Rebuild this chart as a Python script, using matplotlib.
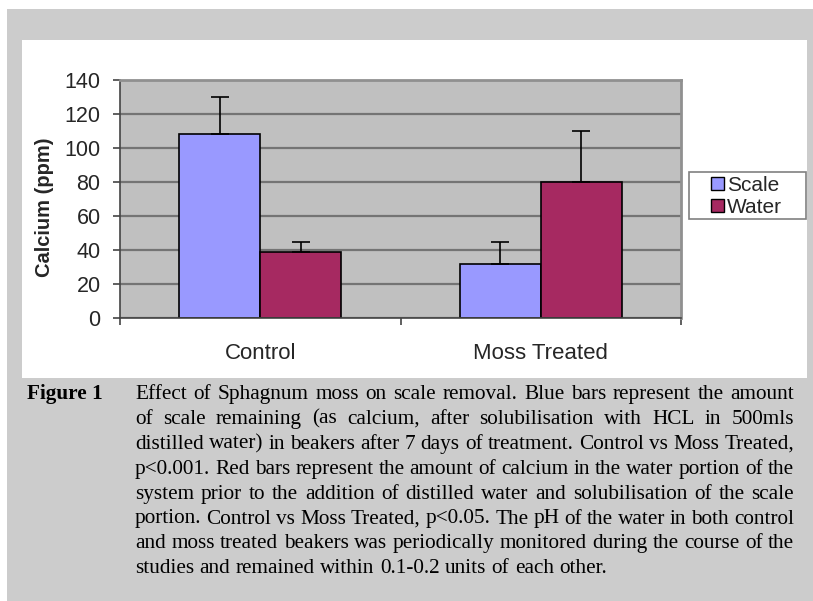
import matplotlib.pyplot as plt
import numpy as np
from matplotlib.patches import Rectangle, Patch

plt.rcParams['font.family'] = ['Liberation Sans', 'DejaVu Sans']

W, H = 813, 601

categories = ['Control', 'Moss Treated']
scale_vals = [108, 32]
scale_err = [22, 13]
water_vals = [39, 80]
water_err = [6, 30]
series_names = ['Scale', 'Water']
yticks = [0, 20, 40, 60, 80, 100, 120, 140]

caption_lines = [
    "Effect of Sphagnum moss on scale removal. Blue bars represent the amount",
    "of scale remaining (as calcium, after solubilisation with HCL in 500mls",
    "distilled water) in beakers after 7 days of treatment. Control vs Moss Treated,",
    "p<0.001. Red bars represent the amount of calcium in the water portion of the",
    "system prior to the addition of distilled water and solubilisation of the scale",
    "portion. Control vs Moss Treated, p<0.05. The pH of the water in both control",
    "and moss treated beakers was periodically monitored during the course of the",
    "studies and remained within 0.1-0.2 units of each other.",
]

scale_color = '#9999ff'
water_color = '#a62961'


def fx(x):
    return x / W


def fy(y):
    return 1 - y / H


fig = plt.figure(figsize=(W / 100, H / 100), dpi=100)
fig.patch.set_facecolor('white')

# grey page and white chart panel
fig.add_artist(Rectangle((fx(7), 0), 1 - fx(7), fy(9), transform=fig.transFigure,
                         facecolor='#cccccc', edgecolor='none', zorder=0))
fig.add_artist(Rectangle((fx(22), fy(378)), fx(807) - fx(22), fy(40) - fy(378),
                         transform=fig.transFigure, facecolor='white',
                         edgecolor='none', zorder=0))

ax = fig.add_axes([fx(120), fy(318), fx(681) - fx(120), fy(80) - fy(318)])
ax.set_facecolor('#c0c0c0')
ax.set_axisbelow(True)

x = np.arange(len(categories))
bw = 0.288
ax.bar(x - bw / 2, scale_vals, bw, color=scale_color, edgecolor='black', linewidth=1.2)
ax.bar(x + bw / 2, water_vals, bw, color=water_color, edgecolor='black', linewidth=1.2)
ax.errorbar(x - bw / 2, scale_vals, yerr=[np.zeros(len(x)), scale_err], fmt='none',
            ecolor='black', elinewidth=1.2, capsize=6.5, capthick=1.2)
ax.errorbar(x + bw / 2, water_vals, yerr=[np.zeros(len(x)), water_err], fmt='none',
            ecolor='black', elinewidth=1.2, capsize=6.5, capthick=1.2)

ax.set_xlim(-0.5, 1.5)
ax.set_ylim(0, 140)
ax.set_yticks(yticks)
ax.yaxis.grid(True, color='#747474', linewidth=1.6)
ax.tick_params(axis='y', direction='out', length=5, width=1.2, color='#444444',
               labelsize=15.5, labelcolor='#262626', pad=9)
ax.set_xticks(x)
ax.set_xticklabels(categories, fontsize=16, color='#262626')
ax.tick_params(axis='x', which='major', length=0, pad=18)
ax.set_xticks([-0.5, 0.5, 1.5], minor=True)
ax.tick_params(axis='x', which='minor', direction='out', length=5, width=1.2, color='#444444')
for s in ['left', 'bottom']:
    ax.spines[s].set_color('#444444')
    ax.spines[s].set_linewidth(1.2)
for s in ['top', 'right']:
    ax.spines[s].set_color('#909090')
    ax.spines[s].set_linewidth(2)

fig.text(fx(44), fy(207), 'Calcium (ppm)', rotation=90, fontsize=14.5,
         fontweight='bold', ha='center', va='center', color='#262626')

# legend box
fig.add_artist(Rectangle((fx(689), fy(219)), fx(806) - fx(689), fy(172) - fy(219),
                         transform=fig.transFigure, facecolor='white',
                         edgecolor='#808080', linewidth=1.2, zorder=3))
handles = [Patch(facecolor=scale_color, edgecolor='black', linewidth=1),
           Patch(facecolor=water_color, edgecolor='black', linewidth=1)]
leg = fig.legend(handles, series_names, loc='upper left',
                 bbox_to_anchor=(fx(710), fy(175)), frameon=False, fontsize=15,
                 handlelength=0.6, handleheight=0.6, handletextpad=0.15,
                 labelspacing=0.15, borderpad=0.05, borderaxespad=0,
                 labelcolor='#262626')
leg.set_zorder(4)

# caption, justified like the original page
serif = 'Liberation Serif'
fs = 15.3
fig.text(fx(27), fy(399), 'Figure 1', fontsize=fs, fontweight='bold',
         family=serif, va='baseline', ha='left')

renderer = fig.canvas.get_renderer()
x0, x1 = 135, 794
for i, line in enumerate(caption_lines):
    yb = 399 + 24.9 * i
    words = line.split(' ')
    texts = [fig.text(0, 0, w, fontsize=fs, family=serif, va='baseline', ha='left')
             for w in words]
    widths = [t.get_window_extent(renderer).width for t in texts]
    if i < len(caption_lines) - 1:
        gap = (x1 - x0 - sum(widths)) / (len(words) - 1)
    else:
        sp = fig.text(0, 0, 'a a', fontsize=fs, family=serif)
        sa = fig.text(0, 0, 'aa', fontsize=fs, family=serif)
        gap = sp.get_window_extent(renderer).width - sa.get_window_extent(renderer).width
        sp.remove()
        sa.remove()
    xp = x0
    for t, w in zip(texts, widths):
        t.set_position((fx(xp), fy(yb)))
        xp += w + gap

fig.savefig('out.png', dpi=100)
